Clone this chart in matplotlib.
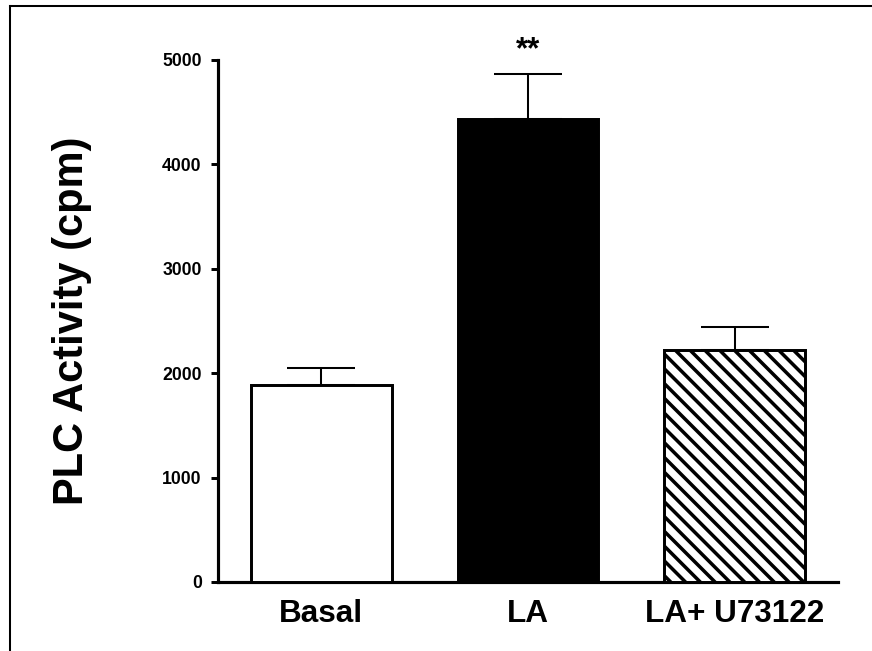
import matplotlib
matplotlib.use("Agg")
import matplotlib.pyplot as plt
from matplotlib.lines import Line2D

# data
groups = ["Basal", "LA", "LA+ U73122"]
plc_mean = [1890, 4435, 2222]
plc_sem = [160, 430, 220]
bar_faces = ["white", "black", "white"]
bar_hatches = ["", "", chr(92) * 3]  # dense back-diagonal hatch
y_ticks = [0, 1000, 2000, 3000, 4000, 5000]

plt.rcParams["font.family"] = ["Liberation Sans", "DejaVu Sans"]
plt.rcParams["hatch.linewidth"] = 1.9

DPI = 133.33
fig = plt.figure(figsize=(872 / DPI, 651 / DPI), dpi=DPI)
ax = fig.add_axes([0.25, 0.106, 0.711, 0.802])

x = range(len(groups))
for i in x:
    ax.bar(i, plc_mean[i], width=0.68, color=bar_faces[i], edgecolor="black",
           linewidth=1.6, hatch=bar_hatches[i], zorder=3)
    ax.errorbar(i, plc_mean[i], yerr=[[0], [plc_sem[i]]], fmt="none",
                ecolor="black", elinewidth=1.1, capsize=18.6, capthick=1.1, zorder=2)

ax.text(1, plc_mean[1] + plc_sem[1] + 80, "**", ha="center", va="bottom",
        fontsize=17, fontweight="bold")

ax.set_xlim(-0.5, 2.5)
ax.set_ylim(0, 5000)
ax.set_yticks(y_ticks)
ax.set_yticklabels([str(t) for t in y_ticks], fontsize=9.5, fontweight="bold")
ax.set_xticks(list(x))
ax.set_xticklabels(groups, fontsize=17, fontweight="bold")
ax.tick_params(axis="x", length=0, pad=9)
ax.tick_params(axis="y", length=3.8, width=1.6, pad=5)

for side in ["top", "right"]:
    ax.spines[side].set_visible(False)
for side in ["left", "bottom"]:
    ax.spines[side].set_linewidth(1.7)

ax.set_ylabel("PLC Activity (cpm)", fontsize=22.5, fontweight="bold", labelpad=38)

# outer frame (top and left edges only visible)
fig.add_artist(Line2D([10 / 872, 1], [1 - 6 / 651, 1 - 6 / 651],
                      transform=fig.transFigure, color="black", linewidth=1.1))
fig.add_artist(Line2D([10 / 872, 10 / 872], [0, 1 - 6 / 651],
                      transform=fig.transFigure, color="black", linewidth=1.1))

fig.savefig("out.png", dpi=DPI)
